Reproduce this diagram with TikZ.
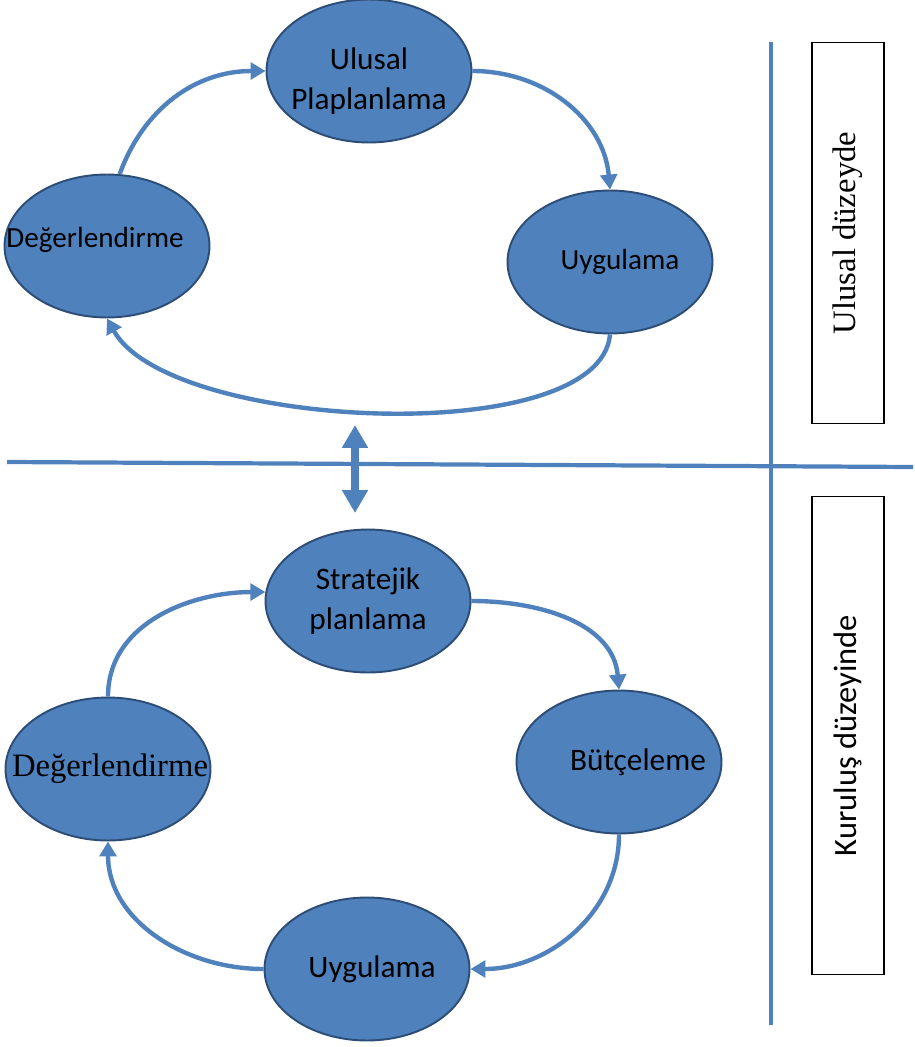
\documentclass[tikz,border=0pt]{standalone}
\usepackage{fontspec}
\setmainfont{Carlito}
\newfontfamily\timesfont{Liberation Serif}
\usetikzlibrary{shapes.geometric,arrows.meta}
\definecolor{blobfill}{HTML}{4F81BD}
\definecolor{blobline}{HTML}{2C4D75}
\tikzstyle{arr}=[-{Triangle[length=8.5pt,width=9.5pt]},line width=2.5pt,draw=blobfill]
\tikzstyle{sep}=[line width=2.4pt,draw=blobfill]
\tikzstyle{blob}=[ellipse,draw=blobline,line width=1.1pt,fill=blobfill,
  minimum width=4.1cm,minimum height=2.86cm,inner sep=0pt]
\tikzstyle{blobtext}=[align=center,inner sep=0pt,font=\fontsize{17.8}{22.5}\selectfont]
\tikzstyle{levelbox}=[draw,line width=0.6pt,rotate=90,minimum height=1.44cm,
  inner sep=0pt,font=\fontsize{18.5}{22}\selectfont]
\newcommand{\timesbig}{\timesfont\fontsize{18.6}{22}\selectfont}
\newcommand{\smallblob}{\fontsize{16.6}{22}\selectfont}

\begin{document}
\begin{tikzpicture}[x=0.02cm,y=-0.02cm]
  \useasboundingbox (0,0) rectangle (915,1047);

  % national level
  \foreach \n/\x/\y/\dx/\dy/\t in {ulusal/369/71/0/-10/{Ulusal\\Plaplanlama},
      uyg1/610/262/10/0/{\smallblob Uygulama}, deg1/107/246/-12/6/{\smallblob Değerlendirme}}
    \node[blob,label={[blobtext,xshift=\dx*0.02cm,yshift=\dy*0.02cm]center:\t}] (\n) at (\x,\y) {};

  \foreach \a/\b/\o/\i in {deg1.80/ulusal.west/70/180, ulusal.east/uyg1.north/0/95}
    \draw[arr] (\a) to[out=\o,in=\i] (\b);
  \draw[arr] (uyg1.south) .. controls +(-10,116) and +(62,112) .. (deg1.south);

  % institutional level
  \foreach \n/\x/\y/\dx/\dy/\t in {strat/368/601/0/0/{Stratejik\\planlama},
      butce/619/762/19/0/Bütçeleme, uyg2/367/969/5/0/Uygulama,
      deg2/108/769/2/0/{\timesbig Değerlendirme}}
    \node[blob,label={[blobtext,xshift=\dx*0.02cm,yshift=\dy*0.02cm]center:\t}] (\n) at (\x,\y) {};

  \foreach \a/\b/\o/\i in {deg2.north/strat.175/90/180, strat.east/butce.north/0/95,
      butce.south/uyg2.east/-90/0, uyg2.west/deg2.south/180/-90}
    \draw[arr] (\a) to[out=\o,in=\i] (\b);

  % separators
  \coordinate (hl) at (7,462);
  \coordinate (hr) at (913,467);
  \coordinate (vt) at (771,42);
  \coordinate (vb) at (771,1025);
  \draw[sep] (hl) -- (hr);
  \draw[sep] (vt) -- (vb);

  \coordinate (up) at (355,425);
  \coordinate (down) at (355,513);
  \draw[blobfill,line width=4pt,{Triangle[length=13pt,width=14pt]}-{Triangle[length=13pt,width=14pt]}]
    (up) -- (down);

  % level boxes
  \node[levelbox,minimum width=7.64cm,font=\timesbig] (natbox) at (848,233) {Ulusal düzeyde};
  \node[levelbox,minimum width=9.58cm] (instbox) at (848,735.5) {Kuruluş düzeyinde};
\end{tikzpicture}
\end{document}
